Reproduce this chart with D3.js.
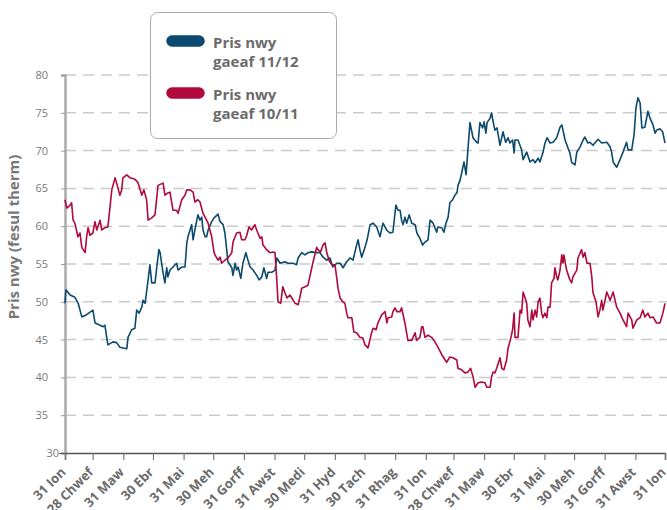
<!DOCTYPE html>
<html>
<head>
<meta charset="utf-8">
<script src="https://cdn.jsdelivr.net/npm/d3@7"></script>
<style>
  body { margin: 0; background: #fff; }
  svg text { font-family: "Open Sans", sans-serif; }
</style>
</head>
<body>
<div id="chart"></div>
<script>
// x values are months since 31 Ion 2010 (0..20), y values are pence per therm
const tickLabels = ["31 Ion", "28 Chwef", "31 Maw", "30 Ebr", "31 Mai", "30 Meh", "31 Gorff", "31 Awst",
  "30 Medi", "31 Hyd", "30 Tach", "31 Rhag", "31 Ion", "28 Chwef", "31 Maw", "30 Ebr", "31 Mai",
  "30 Meh", "31 Gorff", "31 Awst", "31 Ion"];
const monthDays = [28, 31, 30, 31, 30, 31, 31, 30, 31, 30, 31, 31, 28, 31, 30, 31, 30, 31, 31, 30];
const yTicks = [30, 35, 40, 45, 50, 55, 60, 65, 70, 75, 80];
const seriesNames = [["Pris nwy", "gaeaf 11/12"], ["Pris nwy", "gaeaf 10/11"]];
const seriesColors = ["#0b4a6e", "#b00a3c"];

const price1112 = [
  [0, 49.8], [0.03, 51.6], [0.17, 50.9], [0.33, 50.6], [0.44, 49.8], [0.56, 48.0], [0.72, 48.3], [0.93, 48.9],
  [1.0, 47.2], [1.17, 46.9], [1.27, 46.7], [1.33, 46.9], [1.39, 45.3], [1.43, 44.3], [1.6, 44.7], [1.72, 44.6],
  [1.83, 44.0], [1.93, 43.9], [2.06, 43.8], [2.1, 45.3], [2.22, 46.3], [2.33, 46.5], [2.39, 48.9], [2.47, 48.5],
  [2.56, 49.3], [2.6, 50.2], [2.67, 49.8], [2.77, 52.9], [2.83, 54.9], [2.89, 52.5], [3.0, 52.5], [3.06, 54.6],
  [3.13, 56.9], [3.17, 56.5], [3.22, 55.1], [3.27, 53.8], [3.33, 52.5], [3.39, 54.5], [3.43, 53.3], [3.5, 54.2],
  [3.6, 54.6], [3.72, 55.1], [3.77, 54.2], [3.89, 54.6], [4.0, 54.6], [4.06, 57.8], [4.1, 58.6], [4.22, 60.2],
  [4.27, 58.2], [4.33, 59.5], [4.43, 61.5], [4.5, 60.8], [4.56, 61.2], [4.6, 59.5], [4.67, 58.6], [4.72, 58.6],
  [4.77, 59.5], [4.89, 60.6], [4.97, 61.1], [5.1, 61.6], [5.17, 60.6], [5.27, 60.2], [5.33, 59.1], [5.39, 56.9],
  [5.43, 55.3], [5.56, 54.5], [5.6, 53.5], [5.67, 55.1], [5.72, 54.2], [5.77, 54.6], [5.86, 53.1], [5.93, 55.1],
  [6.03, 56.5], [6.1, 55.5], [6.17, 54.6], [6.27, 54.2], [6.39, 53.5], [6.47, 52.9], [6.56, 53.3], [6.63, 54.5],
  [6.72, 53.1], [6.77, 53.9], [6.89, 53.9], [7.0, 54.2], [7.06, 55.8], [7.17, 55.1], [7.33, 55.3], [7.43, 55.1],
  [7.6, 55.1], [7.72, 54.9], [7.77, 55.8], [7.89, 56.5], [8.0, 56.2], [8.1, 56.5], [8.22, 56.6], [8.39, 56.5],
  [8.5, 56.5], [8.6, 55.9], [8.72, 55.5], [8.83, 55.8], [8.93, 54.6], [9.06, 55.1], [9.17, 55.1], [9.27, 54.5],
  [9.39, 55.3], [9.5, 55.8], [9.6, 55.5], [9.72, 57.5], [9.77, 58.2], [9.83, 56.9], [9.89, 55.9], [10.0, 57.2],
  [10.07, 58.2], [10.17, 60.2], [10.27, 60.4], [10.39, 59.9], [10.5, 58.6], [10.6, 60.4], [10.72, 59.5], [10.83, 59.1],
  [10.93, 59.2], [11.03, 62.8], [11.1, 62.1], [11.17, 62.1], [11.22, 60.8], [11.27, 60.2], [11.33, 61.2], [11.39, 60.4],
  [11.47, 61.5], [11.56, 60.4], [11.67, 60.2], [11.73, 59.1], [11.83, 58.4], [11.92, 57.5], [12.0, 57.9], [12.1, 58.2],
  [12.17, 60.8], [12.27, 60.4], [12.39, 59.2], [12.43, 59.9], [12.56, 59.8], [12.63, 59.2], [12.7, 60.4], [12.77, 61.2],
  [12.83, 63.1], [12.92, 63.5], [13.0, 64.1], [13.07, 64.5], [13.1, 65.4], [13.17, 66.1], [13.22, 67.0], [13.3, 68.5],
  [13.37, 66.8], [13.43, 70.1], [13.5, 73.7], [13.6, 71.7], [13.72, 71.1], [13.77, 71.0], [13.83, 73.7], [13.92, 73.0],
  [13.97, 73.8], [14.03, 72.3], [14.07, 73.7], [14.17, 74.3], [14.22, 75.0], [14.27, 73.8], [14.33, 72.7], [14.4, 73.0],
  [14.5, 70.7], [14.6, 72.5], [14.69, 71.1], [14.77, 71.7], [14.83, 71.0], [14.92, 71.4], [14.97, 69.7], [15.0, 71.4],
  [15.1, 71.4], [15.22, 70.1], [15.27, 68.8], [15.39, 69.8], [15.5, 68.5], [15.6, 68.8], [15.67, 68.4], [15.77, 69.0],
  [15.83, 68.5], [15.93, 69.7], [16.0, 71.0], [16.07, 71.7], [16.17, 71.0], [16.27, 71.1], [16.39, 71.7], [16.5, 73.1],
  [16.56, 73.4], [16.67, 71.4], [16.77, 70.3], [16.83, 69.7], [16.89, 68.4], [17.0, 68.1], [17.06, 69.8], [17.17, 70.5],
  [17.27, 71.4], [17.33, 71.8], [17.43, 71.0], [17.5, 71.1], [17.6, 70.7], [17.77, 71.5], [17.89, 71.0], [18.06, 71.1],
  [18.17, 70.5], [18.22, 69.8], [18.27, 68.5], [18.39, 67.8], [18.5, 68.8], [18.6, 69.8], [18.72, 71.1], [18.77, 70.1],
  [18.89, 70.1], [18.97, 72.1], [19.03, 75.6], [19.1, 77.0], [19.17, 76.3], [19.23, 73.0], [19.33, 73.1], [19.43, 75.2],
  [19.5, 74.3], [19.6, 73.4], [19.67, 72.3], [19.72, 72.7], [19.83, 72.9], [19.92, 72.5], [20.0, 71.0]
];

const price1011 = [
  [0, 63.5], [0.06, 62.4], [0.17, 62.8], [0.22, 63.1], [0.27, 60.8], [0.33, 60.4], [0.43, 58.6], [0.5, 59.1],
  [0.56, 57.2], [0.67, 56.5], [0.72, 58.6], [0.77, 59.8], [0.83, 58.8], [0.93, 59.1], [1.0, 60.6], [1.06, 59.5],
  [1.17, 60.8], [1.22, 59.5], [1.33, 59.8], [1.43, 59.9], [1.56, 64.8], [1.67, 66.4], [1.72, 65.7], [1.83, 64.1],
  [1.89, 64.8], [1.93, 66.4], [2.06, 66.8], [2.17, 66.4], [2.33, 66.2], [2.43, 65.8], [2.56, 64.1], [2.63, 64.8],
  [2.72, 63.5], [2.77, 60.8], [2.89, 61.1], [3.0, 61.5], [3.1, 65.4], [3.27, 65.7], [3.33, 64.1], [3.43, 64.4],
  [3.5, 64.5], [3.6, 62.1], [3.72, 62.1], [3.77, 61.7], [3.89, 63.5], [4.0, 64.1], [4.06, 64.8], [4.17, 64.8],
  [4.27, 64.5], [4.33, 63.2], [4.43, 63.5], [4.5, 63.2], [4.6, 61.7], [4.72, 60.8], [4.77, 60.4], [4.89, 58.6],
  [4.97, 56.5], [5.0, 56.2], [5.1, 55.5], [5.17, 55.9], [5.22, 55.1], [5.33, 55.5], [5.43, 55.8], [5.56, 56.5],
  [5.6, 57.9], [5.72, 59.1], [5.83, 59.2], [5.89, 58.2], [6.0, 58.2], [6.06, 58.8], [6.13, 59.9], [6.22, 59.5],
  [6.33, 60.2], [6.39, 59.5], [6.5, 58.4], [6.56, 58.6], [6.6, 57.5], [6.72, 56.9], [6.83, 56.5], [6.93, 56.6],
  [7.0, 56.5], [7.06, 52.9], [7.1, 50.0], [7.19, 49.8], [7.26, 52.0], [7.33, 51.2], [7.4, 50.5], [7.5, 50.9],
  [7.56, 50.5], [7.67, 49.8], [7.77, 49.6], [7.83, 50.6], [7.89, 51.8], [8.0, 52.0], [8.1, 52.2], [8.17, 53.5],
  [8.27, 55.3], [8.39, 57.2], [8.43, 56.9], [8.52, 56.6], [8.6, 57.5], [8.67, 57.8], [8.72, 56.6], [8.8, 55.5],
  [8.89, 54.9], [9.0, 54.9], [9.06, 53.1], [9.1, 51.8], [9.17, 50.5], [9.26, 50.0], [9.33, 49.8], [9.39, 48.5],
  [9.43, 47.9], [9.56, 47.9], [9.63, 46.0], [9.72, 45.9], [9.83, 45.3], [9.93, 45.2], [10.0, 44.3], [10.1, 43.9],
  [10.22, 45.9], [10.27, 46.5], [10.37, 46.3], [10.43, 47.2], [10.56, 48.3], [10.67, 48.7], [10.73, 47.2], [10.77, 47.9],
  [10.89, 48.0], [10.93, 48.7], [11.0, 49.2], [11.06, 48.7], [11.17, 48.7], [11.22, 49.2], [11.33, 47.2], [11.43, 44.9],
  [11.56, 44.9], [11.67, 45.9], [11.72, 44.9], [11.83, 45.3], [11.89, 46.7], [11.93, 46.7], [12.0, 45.3], [12.1, 45.6],
  [12.22, 45.3], [12.33, 44.7], [12.43, 44.0], [12.56, 43.0], [12.67, 42.3], [12.72, 42.0], [12.83, 42.7], [12.93, 42.6],
  [13.06, 42.3], [13.1, 41.2], [13.22, 41.0], [13.33, 40.6], [13.43, 40.7], [13.52, 41.2], [13.6, 40.1], [13.67, 38.7],
  [13.77, 39.3], [13.89, 39.4], [14.0, 39.3], [14.06, 38.7], [14.17, 38.7], [14.22, 40.1], [14.27, 40.7], [14.33, 40.6],
  [14.39, 41.2], [14.5, 42.6], [14.56, 41.2], [14.63, 41.0], [14.72, 42.3], [14.77, 43.9], [14.86, 45.2], [14.92, 46.3],
  [14.97, 48.5], [15.0, 45.3], [15.1, 45.3], [15.17, 48.9], [15.22, 48.5], [15.27, 51.3], [15.33, 50.6], [15.39, 49.8],
  [15.43, 47.6], [15.5, 46.7], [15.56, 48.9], [15.6, 47.6], [15.67, 48.9], [15.72, 48.0], [15.77, 50.0], [15.83, 50.5],
  [15.89, 48.5], [15.93, 47.9], [16.0, 48.5], [16.06, 47.9], [16.1, 49.3], [16.17, 49.3], [16.22, 52.5], [16.3, 53.1],
  [16.33, 54.5], [16.39, 53.3], [16.43, 52.9], [16.5, 54.2], [16.56, 56.2], [16.6, 55.1], [16.63, 56.2], [16.72, 54.2],
  [16.83, 52.9], [16.89, 52.5], [16.93, 53.3], [17.06, 54.2], [17.1, 55.8], [17.22, 56.9], [17.27, 55.9], [17.33, 56.5],
  [17.4, 55.1], [17.5, 55.1], [17.56, 53.3], [17.6, 51.2], [17.7, 50.0], [17.77, 48.0], [17.83, 48.9], [17.89, 50.2],
  [17.93, 48.9], [18.06, 51.3], [18.17, 50.2], [18.27, 51.3], [18.39, 49.3], [18.5, 48.5], [18.6, 47.6], [18.72, 46.7],
  [18.77, 48.5], [18.89, 47.6], [18.93, 46.5], [19.06, 47.6], [19.17, 47.9], [19.26, 48.9], [19.33, 48.0], [19.43, 48.5],
  [19.5, 47.9], [19.6, 48.0], [19.72, 47.2], [19.83, 47.2], [19.93, 48.5], [20.0, 49.8]
];

const width = 667, height = 510;
const margin = { top: 75, right: 2, bottom: 57, left: 65 };

const svg = d3.select("#chart").append("svg")
  .attr("width", width)
  .attr("height", height);

const x = d3.scaleLinear().domain([0, 20]).range([margin.left, width - margin.right]);
const y = d3.scaleLinear().domain([30, 80]).range([height - margin.bottom, margin.top]);

// tick positions follow month lengths, spread over the 20 month span
const totalDays = d3.sum(monthDays);
const tickPos = [0].concat(Array.from(d3.cumsum(monthDays), d => d * 20 / totalDays));

// dashed grid
svg.append("g")
  .selectAll("line")
  .data(yTicks.filter(d => d > 30))
  .join("line")
    .attr("x1", x(0))
    .attr("x2", width)
    .attr("y1", d => y(d))
    .attr("y2", d => y(d))
    .attr("stroke", "#cbcbcb")
    .attr("stroke-width", 1.5)
    .attr("stroke-dasharray", "11,7");

// y axis
const yAxis = svg.append("g")
  .attr("transform", `translate(${x(0)},0)`)
  .call(d3.axisLeft(y).tickValues(yTicks).tickSize(4).tickPadding(13));
yAxis.select(".domain").attr("stroke", "#ababab").attr("stroke-width", 2.5);
yAxis.selectAll(".tick line").attr("stroke", "#999");
yAxis.selectAll(".tick text")
  .attr("fill", "#7a7a7a")
  .style("font-size", "11px");
yAxis.selectAll(".tick").filter(d => d === 30).select("text").attr("x", -6);
yAxis.selectAll(".tick").filter(d => d === 30).select("line").attr("x2", -6).attr("stroke", "#555");

// x axis
const xAxis = svg.append("g")
  .attr("transform", `translate(0,${y(30)})`)
  .call(d3.axisBottom(x).tickValues(tickPos).tickSize(7).tickFormat((d, i) => tickLabels[i]));
xAxis.select(".domain").attr("stroke", "#555").attr("stroke-width", 1.5);
xAxis.selectAll(".tick line").attr("stroke", "#777").attr("stroke-width", 1.2);
xAxis.selectAll(".tick text")
  .attr("fill", "#6a6a6a")
  .style("font-size", "13px")
  .style("font-weight", "bold")
  .attr("text-anchor", "end")
  .attr("dy", null)
  .attr("y", 0)
  .attr("transform", "translate(1,20) rotate(-45)");

// lines
const line = d3.line()
  .x(d => x(d[0]))
  .y(d => y(d[1]));

svg.append("g")
  .selectAll("path")
  .data([price1112, price1011])
  .join("path")
    .attr("d", line)
    .attr("fill", "none")
    .attr("stroke", (d, i) => seriesColors[i])
    .attr("stroke-width", 1.6)
    .attr("stroke-linejoin", "round");

// y title
svg.append("text")
  .attr("transform", "translate(19,237) rotate(-90)")
  .attr("text-anchor", "middle")
  .attr("fill", "#777")
  .style("font-size", "15px")
  .style("font-weight", "bold")
  .text("Pris nwy (fesul therm)");

// legend
const legend = svg.append("g").attr("transform", "translate(150,12)");
legend.append("rect")
  .attr("x", 0.5).attr("y", 0.5)
  .attr("width", 186).attr("height", 126)
  .attr("rx", 7)
  .attr("fill", "#fff")
  .attr("stroke", "#aaa");

const item = legend.selectAll("g.item")
  .data(seriesNames)
  .join("g")
    .attr("class", "item")
    .attr("transform", (d, i) => `translate(0,${29 + i * 52})`);

item.append("line")
  .attr("x1", 22).attr("x2", 49)
  .attr("stroke", (d, i) => seriesColors[i])
  .attr("stroke-width", 11.5)
  .attr("stroke-linecap", "round");

item.append("text")
  .attr("x", 63)
  .attr("fill", "#6b6b6b")
  .style("font-size", "15px")
  .style("font-weight", "bold")
  .selectAll("tspan")
  .data(d => d)
  .join("tspan")
    .attr("x", 63)
    .attr("y", (d, i) => 7 + i * 19)
    .text(d => d);
</script>
</body>
</html>
